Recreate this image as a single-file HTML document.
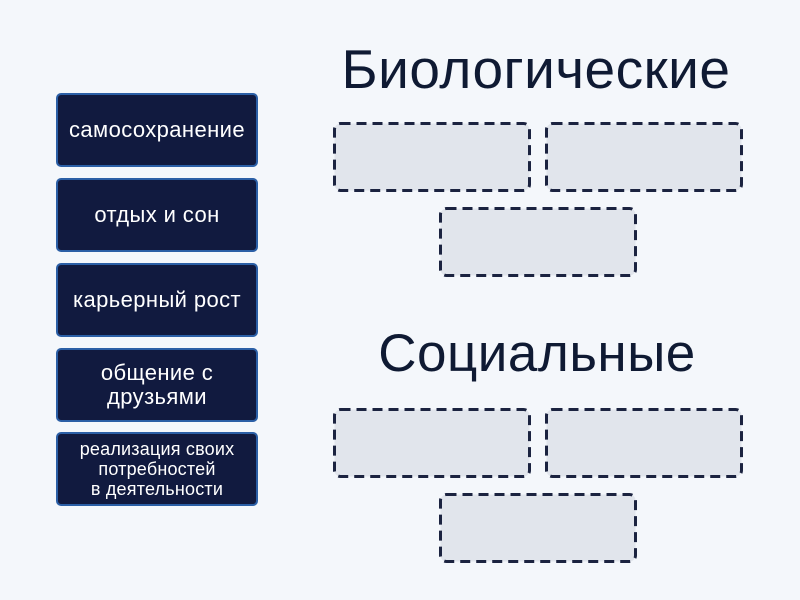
<!DOCTYPE html>
<html><head><meta charset="utf-8"><style>
body{margin:0;width:800px;height:600px;background:#f4f7fb;position:relative;overflow:hidden;font-family:"Liberation Sans","DejaVu Sans",sans-serif}
.c{position:absolute;left:56px;width:198px;height:70px;background:#111a3f;border:2px solid #2b5fa6;border-radius:5px;color:#fff;display:flex;align-items:center;justify-content:center;text-align:center;font-size:22px;line-height:24px;letter-spacing:0.4px}
.s{font-size:18px;line-height:20px;letter-spacing:0.2px}
.t{position:absolute;width:600px;text-align:center;font-size:55px;color:#0f1a33;letter-spacing:0.5px}
svg{position:absolute;left:0;top:0}
</style></head><body>
<svg width="800" height="600">
<g fill="#e1e5ec" stroke="#1b2340" stroke-width="3" stroke-dasharray="10 6">
<rect x="334.5" y="123.5" width="195" height="67" rx="6"/>
<rect x="546.5" y="123.5" width="195" height="67" rx="6"/>
<rect x="440.5" y="208.5" width="195" height="67" rx="6"/>
<rect x="334.5" y="409.5" width="195" height="67" rx="6"/>
<rect x="546.5" y="409.5" width="195" height="67" rx="6"/>
<rect x="440.5" y="494.5" width="195" height="67" rx="6"/>
</g></svg>
<div class="c" style="top:93px">самосохранение</div>
<div class="c" style="top:178px">отдых и сон</div>
<div class="c" style="top:263px">карьерный рост</div>
<div class="c" style="top:348px">общение с<br>друзьями</div>
<div class="c s" style="top:432px">реализация своих<br>потребностей<br>в деятельности</div>
<div class="t" style="left:236px;top:37px">Биологические</div>
<div class="t" style="left:237px;top:323px;font-size:53px">Социальные</div>
</body></html>
